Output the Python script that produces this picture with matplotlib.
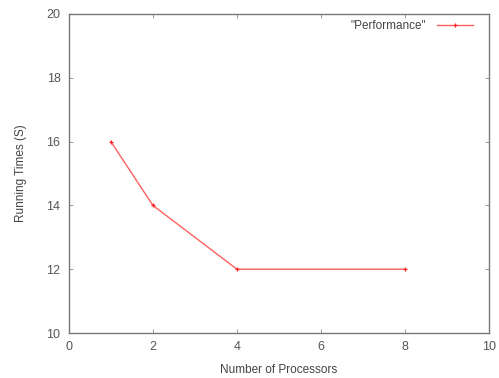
import numpy as np
import matplotlib.pyplot as plt

plt.rcParams['font.family'] = ['Liberation Sans', 'DejaVu Sans']

# data
processors = [1, 2, 4, 8]
running_times = [16, 14, 12, 12]
xticks = [0, 2, 4, 6, 8, 10]
yticks = [10, 12, 14, 16, 18, 20]

fig = plt.figure(figsize=(4.99, 3.78), dpi=100)
ax = fig.add_axes([0.138, 0.119, 0.842, 0.844])

ax.plot(processors, running_times, color='#ff6060', lw=1.0, marker='+',
        ms=3, mew=0.9, mec='#ff2020', label='"Performance"')

ax.set_xlim(0, 10)
ax.set_ylim(10, 20)
ax.set_xticks(xticks)
ax.set_yticks(yticks)
ax.tick_params(direction='in', length=3, width=0.6, colors='#888888',
               labelcolor='#555555', labelsize=9, top=True, right=True, pad=6)
for s in ax.spines.values():
    s.set_color('#777777')
    s.set_linewidth(1.0)

ax.set_xlabel('Number of Processors', fontsize=8.5, color='#444444', labelpad=8)
ax.set_ylabel('Running Times (S)', fontsize=8.5, color='#444444', labelpad=14)

leg = ax.legend(loc='upper right', bbox_to_anchor=(0.975, 1.0), frameon=False,
                fontsize=8.5, markerfirst=False, handlelength=3.0,
                borderaxespad=0.1, handletextpad=0.9)
for t in leg.get_texts():
    t.set_color('#444444')

fig.savefig('out.png', dpi=100)
